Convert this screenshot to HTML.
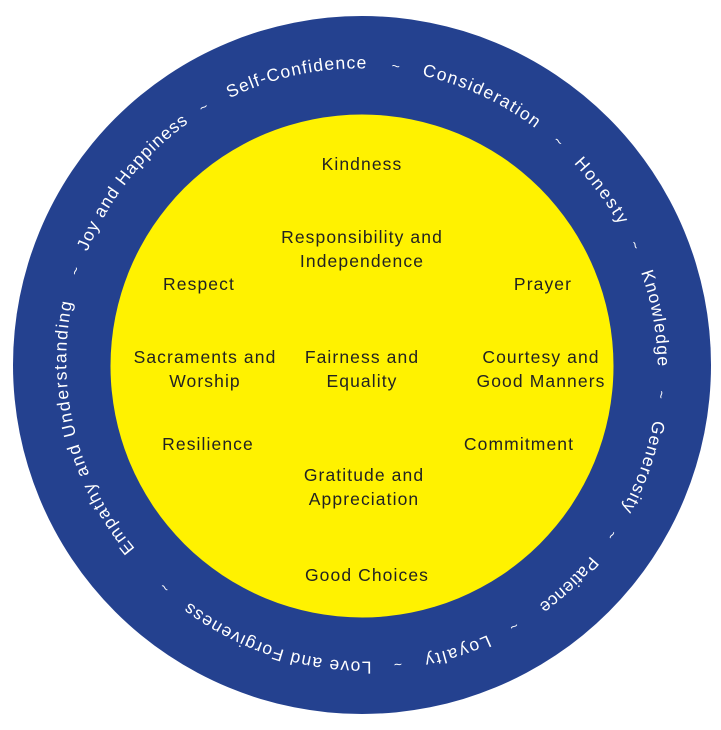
<!DOCTYPE html>
<html><head><meta charset="utf-8"><style>
html,body{margin:0;padding:0;background:#fff;}
svg{display:block;}
</style></head><body>
<svg width="721" height="730" viewBox="0 0 721 730" xmlns="http://www.w3.org/2000/svg">
<circle cx="362" cy="365" r="349" fill="#24418f"/>
<circle cx="362" cy="366" r="251.5" fill="#fff200"/>
<defs>
<path id="ring" d="M135.1,548.7 A292,292 0 1,1 588.9,181.3 A292,292 0 1,1 135.1,548.7"/>
</defs>
<g font-family="Liberation Sans, sans-serif" font-size="17.5" fill="#ffffff">
<text><textPath href="#ring" startOffset="0" textLength="263" lengthAdjust="spacing">Empathy and Understanding</textPath></text>
<text><textPath href="#ring" startOffset="316" textLength="166" lengthAdjust="spacing">Joy and Happiness</textPath></text>
<text><textPath href="#ring" startOffset="530" textLength="141" lengthAdjust="spacing">Self-Confidence</textPath></text>
<text><textPath href="#ring" startOffset="727" textLength="126" lengthAdjust="spacing">Consideration</textPath></text>
<text><textPath href="#ring" startOffset="905" textLength="77" lengthAdjust="spacing">Honesty</textPath></text>
<text><textPath href="#ring" startOffset="1034" textLength="96" lengthAdjust="spacing">Knowledge</textPath></text>
<text><textPath href="#ring" startOffset="1184" textLength="95" lengthAdjust="spacing">Generosity</textPath></text>
<text><textPath href="#ring" startOffset="1335" textLength="72" lengthAdjust="spacing">Patience</textPath></text>
<text><textPath href="#ring" startOffset="1466" textLength="67" lengthAdjust="spacing">Loyalty</textPath></text>
<text><textPath href="#ring" startOffset="1586" textLength="195" lengthAdjust="spacing">Love and Forgiveness</textPath></text>
</g>
<g font-family="Liberation Sans, sans-serif" font-size="14" fill="#ffffff" text-anchor="middle">
<text><textPath href="#ring" startOffset="294">~</textPath></text>
<text><textPath href="#ring" startOffset="503">~</textPath></text>
<text><textPath href="#ring" startOffset="700">~</textPath></text>
<text><textPath href="#ring" startOffset="879">~</textPath></text>
<text><textPath href="#ring" startOffset="1007">~</textPath></text>
<text><textPath href="#ring" startOffset="1158">~</textPath></text>
<text><textPath href="#ring" startOffset="1306">~</textPath></text>
<text><textPath href="#ring" startOffset="1439">~</textPath></text>
<text><textPath href="#ring" startOffset="1560">~</textPath></text>
<text><textPath href="#ring" startOffset="1809">~</textPath></text>
</g>
<g font-family="Liberation Sans, sans-serif" font-size="17.5" fill="#222" text-anchor="middle" letter-spacing="1.1">
<text x="362" y="170">Kindness</text>
<text x="362" y="243">Responsibility and</text>
<text x="362" y="267">Independence</text>
<text x="199" y="290">Respect</text>
<text x="543" y="290">Prayer</text>
<text x="205" y="363">Sacraments and</text>
<text x="205" y="387">Worship</text>
<text x="362" y="363">Fairness and</text>
<text x="362" y="387">Equality</text>
<text x="541" y="363">Courtesy and</text>
<text x="541" y="387">Good Manners</text>
<text x="208" y="450">Resilience</text>
<text x="519" y="450">Commitment</text>
<text x="364" y="481">Gratitude and</text>
<text x="364" y="505">Appreciation</text>
<text x="367" y="581">Good Choices</text>
</g>
</svg>
</body></html>
